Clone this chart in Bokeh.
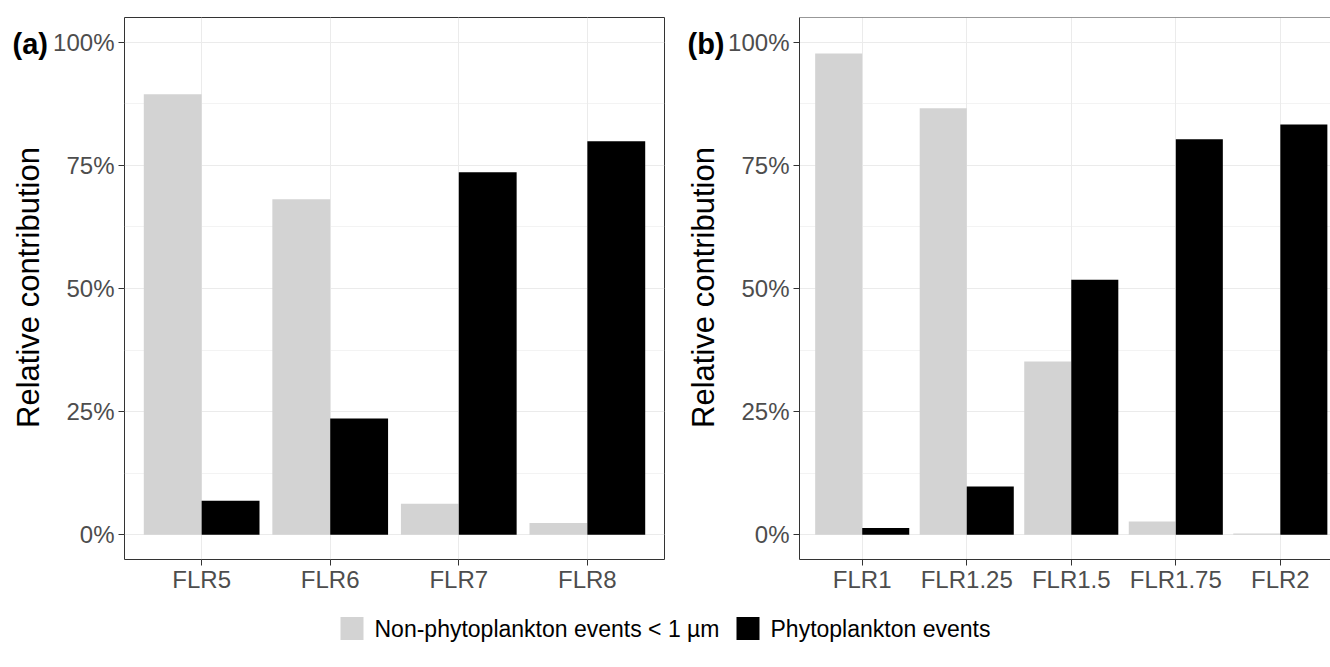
import math

from bokeh.plotting import figure
from bokeh.layouts import row, column
from bokeh.models import (Range1d, FixedTicker, NumeralTickFormatter, Span,
                          ColumnDataSource)
from bokeh.transform import dodge
from bokeh.embed import file_html
from bokeh.resources import INLINE
from bokeh.core.properties import value

# ---- data -------------------------------------------------------------
# Panel (a): long-wavelength fluorescence thresholds
cats_a = ["FLR5", "FLR6", "FLR7", "FLR8"]
nonphyto_a = [0.894, 0.681, 0.063, 0.024]
phyto_a = [0.069, 0.236, 0.736, 0.799]

# Panel (b): low fluorescence thresholds
cats_b = ["FLR1", "FLR1.25", "FLR1.5", "FLR1.75", "FLR2"]
nonphyto_b = [0.977, 0.866, 0.352, 0.027, 0.003]
phyto_b = [0.014, 0.098, 0.518, 0.803, 0.833]

series = ["Non-phytoplankton events < 1 µm", "Phytoplankton events"]
colors = ["#D3D3D3", "#000000"]

y_ticks = [0, 0.25, 0.5, 0.75, 1.0]
y_minor = [0.125, 0.375, 0.625, 0.875]
y_title = "Relative contribution"

# ---- styling ------------------------------------------------------------
FONT = "Liberation Sans"
BAR_W = 0.45
BORDER = "#333333"
GRID = "#EBEBEB"
TICK_TXT = "#4D4D4D"
PANEL_H = 600
TOP, BOTTOM = 17, 41          # space above / below each plotting frame


def make_strip(tag, width, tag_x, title_x):
    """Narrow canvas left of a panel holding its tag and rotated y title.
    Its frame lines up with the panel frame; y counts pixels up from the
    bottom of the canvas."""
    s = figure(width=width, height=PANEL_H,
               x_range=Range1d(0, width),
               y_range=Range1d(BOTTOM, PANEL_H - TOP),
               x_axis_type=None, y_axis_type=None,
               output_backend="svg", toolbar_location=None,
               min_border_left=0, min_border_right=0,
               min_border_top=TOP, min_border_bottom=BOTTOM)
    s.outline_line_color = None
    s.background_fill_color = "white"
    s.border_fill_color = "white"
    s.text(x=[tag_x], y=[PANEL_H - 43], text=[tag], text_font=value(FONT),
           text_font_size="29px", text_font_style="bold", text_color="black",
           text_align="left", text_baseline="alphabetic")
    s.text(x=[title_x], y=[PANEL_H - 287], text=[y_title], angle=math.pi / 2,
           text_font=value(FONT), text_font_size="31px", text_color="black",
           text_align="center", text_baseline="middle")
    return s


def make_panel(cats, nonphyto, phyto, width, left, right, x_end, framed):
    pos = list(range(1, len(cats) + 1))
    p = figure(width=width, height=PANEL_H,
               x_range=Range1d(0.4, x_end), y_range=Range1d(-0.05, 1.05),
               output_backend="svg", toolbar_location=None,
               min_border_left=left, min_border_right=right,
               min_border_top=TOP, min_border_bottom=BOTTOM)
    p.background_fill_color = "white"
    p.border_fill_color = "white"

    src = ColumnDataSource(dict(pos=pos, non=nonphyto, phy=phyto))
    p.vbar(x=dodge("pos", -BAR_W / 2), top="non", bottom=0, width=BAR_W,
           fill_color=colors[0], line_color=None, source=src)
    p.vbar(x=dodge("pos", BAR_W / 2), top="phy", bottom=0, width=BAR_W,
           fill_color=colors[1], line_color=None, source=src)

    # axes
    p.xaxis.ticker = FixedTicker(ticks=pos)
    p.xaxis.major_label_overrides = {i: c for i, c in zip(pos, cats)}
    p.yaxis.ticker = FixedTicker(ticks=y_ticks, minor_ticks=y_minor)
    p.yaxis.formatter = NumeralTickFormatter(format="0%")

    for ax in (p.xaxis[0], p.yaxis[0]):
        ax.major_tick_out = 6
        ax.major_tick_in = 0
        ax.minor_tick_line_color = None
        ax.major_tick_line_color = BORDER
        ax.major_tick_line_width = 1
        ax.major_label_text_font = FONT
        ax.major_label_text_font_size = "24px"
        ax.major_label_text_color = TICK_TXT
        ax.axis_line_color = None if framed else BORDER
    p.xaxis.major_label_standoff = 0
    p.yaxis.major_label_standoff = 4

    # grid
    p.xgrid.grid_line_color = GRID
    p.xgrid.grid_line_width = 1
    p.ygrid.grid_line_color = GRID
    p.ygrid.grid_line_width = 1
    p.ygrid.minor_grid_line_color = GRID
    p.ygrid.minor_grid_line_width = 0.6

    # panel border
    if framed:
        p.outline_line_color = BORDER
        p.outline_line_width = 1
    else:
        p.outline_line_color = None
        p.add_layout(Span(location=1.05, dimension="width",
                          line_color=BORDER, line_width=1))
    return p


s1 = make_strip("(a)", width=50, tag_x=12, title_x=28)
p1 = make_panel(cats_a, nonphyto_a, phyto_a, width=622, left=74, right=8,
                x_end=4.6, framed=True)
s2 = make_strip("(b)", width=53, tag_x=15, title_x=31)
p2 = make_panel(cats_b, nonphyto_b, phyto_b, width=605, left=74, right=0,
                x_end=5.48, framed=False)

# ---- shared legend -----------------------------------------------------
leg = figure(width=1330, height=67, x_range=Range1d(0, 1330), y_range=Range1d(0, 67),
             x_axis_type=None, y_axis_type=None,
             output_backend="svg", toolbar_location=None,
             min_border=0)
leg.outline_line_color = None
leg.background_fill_color = "white"
leg.border_fill_color = "white"
leg_src = ColumnDataSource(dict(kx=[351.5, 747.5], tx=[374, 770], y=[39, 39],
                                label=series, color=colors))
leg.rect(x="kx", y="y", width=23, height=23, fill_color="color", line_color=None,
         source=leg_src)
leg.text(x="tx", y="y", text="label", text_font=value(FONT), text_font_size="23px",
         text_color="black", text_baseline="middle", text_align="left", source=leg_src)

layout = column(row(s1, p1, s2, p2, spacing=0), leg, spacing=0)

open("out.html", "w").write(file_html(layout, INLINE))
